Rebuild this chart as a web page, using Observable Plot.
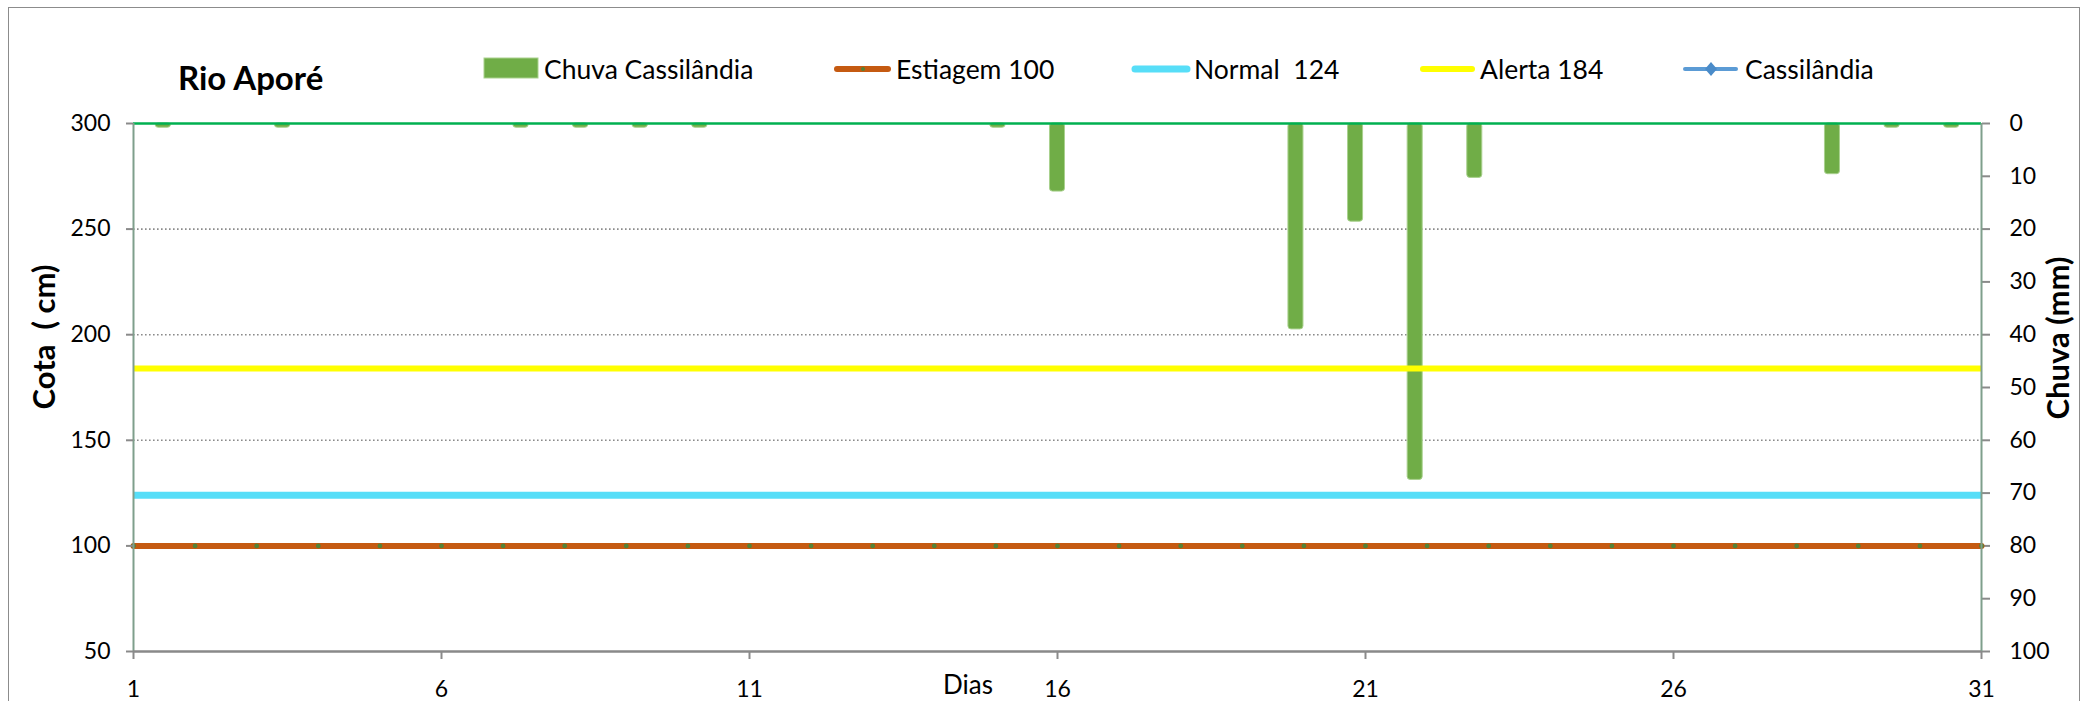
<!DOCTYPE html>
<html>
<head>
<meta charset="utf-8">
<script src="https://cdn.jsdelivr.net/npm/d3@7"></script>
<script src="https://cdn.jsdelivr.net/npm/@observablehq/plot@0.6"></script>
<style>
  html, body { margin: 0; padding: 0; background: #fff; }
  #wrap { position: relative; width: 2094px; height: 701px; overflow: hidden; font-family: Lato, "Noto Sans", sans-serif; }
  #wrap > svg { position: absolute; left: 0; top: 0; }
  #border { position: absolute; left: 8px; top: 7px; width: 2072px; height: 760px; border: 1.5px solid #8c8c8c; box-sizing: border-box; }
  .pre { white-space: pre; }
</style>
</head>
<body>
<div id="wrap"><div id="border"></div></div>
<script>
// ---------- data ----------
const days = [1,2,3,4,5,6,7,8,9,10,11,12,13,14,15,16,17,18,19,20,21,22,23,24,25,26,27,28,29,30,31];
const chuva = [0.8,0,0.8,0,0,0,0.8,0.8,0.8,0.8,0,0,0,0,0.8,12.9,0,0,0,39.0,18.6,67.5,10.3,0,0,0,0,0,9.6,0.8,0.8];
const estiagem = [100,100,100,100,100,100,100,100,100,100,100,100,100,100,100,100,100,100,100,100,100,100,100,100,100,100,100,100,100,100,100];
const normal = 124;
const alerta = 184;
const cassilandia = []; // no readings in the period
const cotaTicks = [50,100,150,200,250,300];
const chuvaTicks = [0,10,20,30,40,50,60,70,80,90,100];
const chuvaGrid = [20,40,60,80];
const dayTicks = [1,6,11,16,21,26,31];
const seriesNames = ["Chuva Cassilândia","Estiagem 100","Normal  124","Alerta 184","Cassilândia"];
const titleText = "Rio Aporé";
const yLeftTitle = "Cota  ( cm)";
const yRightTitle = "Chuva (mm)";
const xTitle = "Dias";

// ---------- tables ----------
const rainData = days.map((d, i) => ({day: d, rain: chuva[i]})).filter(d => d.rain > 0);
const estData = days.map((d, i) => ({day: d, v: estiagem[i]}));

const W = 2094, H = 701;
const common = {width: W, height: H, marginLeft: 133, marginRight: 113, marginTop: 123, marginBottom: 50};
const font = "Lato, 'Noto Sans', sans-serif";
const style = {background: "transparent", fontFamily: font, fontSize: "23px", color: "#000", overflow: "visible"};

// Plot A: rain bars on a band scale, right axis (mm), grid
const plotA = Plot.plot({
  ...common, style,
  x: {type: "band", domain: days, paddingInner: 0.748, paddingOuter: 0.374, round: false, axis: null},
  y: {domain: [0, 100], reverse: true, axis: null},
  marks: [
    Plot.gridY(chuvaGrid, {stroke: "#8a8a8a", strokeOpacity: 1, strokeWidth: 1.6, strokeDasharray: "1.6,2.4"}),
    Plot.barY(rainData, {x: "day", y1: 0, y2: "rain", fill: "#70AD47", stroke: "#A9D18E", strokeWidth: 1, rx: 3}),
    Plot.axisY(chuvaTicks, {anchor: "right", tickSize: 8, tickPadding: 20, stroke: "#8a8a8a", strokeWidth: 2, fill: "#000", label: null})
  ]
});

// Plot B: level lines on a linear day scale, left axis (cm), x axis
const plotB = Plot.plot({
  ...common, style,
  x: {domain: [1, 31], axis: null},
  y: {domain: [50, 300], axis: null},
  marks: [
    Plot.ruleY([alerta], {stroke: "#FFFF00", strokeWidth: 6}),
    Plot.ruleY([normal], {stroke: "#57DEF8", strokeWidth: 7}),
    Plot.lineY(estData, {x: "day", y: "v", stroke: "#C55A11", strokeWidth: 6}),
    Plot.dot(estData, {x: "day", y: "v", r: 2.4, fill: "#548235", stroke: null}),
    Plot.lineY(cassilandia, {x: "day", y: "v", stroke: "#5B9BD5", strokeWidth: 3}),
    Plot.ruleY([300], {stroke: "#00B050", strokeWidth: 2.4}),
    Plot.ruleX([1], {stroke: "#7F9F8C", strokeWidth: 2}),
    Plot.ruleX([31], {stroke: "#7F9F8C", strokeWidth: 2}),
    Plot.ruleY([50], {stroke: "#898989", strokeWidth: 2.5}),
    Plot.axisY(cotaTicks, {anchor: "left", tickSize: 7, tickPadding: 16, stroke: "#8a8a8a", strokeWidth: 2, fill: "#000", label: null}),
    Plot.axisX(dayTicks, {anchor: "bottom", tickSize: 8, tickPadding: 21, stroke: "#8a8a8a", strokeWidth: 2, fill: "#000", label: null})
  ]
});

const wrap = document.getElementById("wrap");
wrap.appendChild(plotA);
wrap.appendChild(plotB);

// Overlay: title, legend, axis titles
const ov = d3.select("#wrap").append("svg").attr("width", W).attr("height", H)
  .style("font-family", font);

ov.append("text").attr("x", 178).attr("y", 90).attr("font-size", 33).attr("font-weight", 700).text(titleText);

ov.append("text").attr("class", "pre").attr("transform", "translate(43,337) rotate(-90)")
  .attr("text-anchor", "middle").attr("dominant-baseline", "central")
  .attr("font-size", 31).attr("font-weight", 700).text(yLeftTitle);
ov.append("text").attr("transform", "translate(2057,338) rotate(-90)")
  .attr("text-anchor", "middle").attr("dominant-baseline", "central")
  .attr("font-size", 31).attr("font-weight", 700).text(yRightTitle);
ov.append("text").attr("x", 943).attr("y", 694).attr("font-size", 26).text(xTitle);

// legend
const legY = 69;
const lg = ov.append("g").attr("font-size", 26.5);
// Chuva swatch
lg.append("rect").attr("x", 484).attr("y", 58).attr("width", 54).attr("height", 20)
  .attr("fill", "#70AD47").attr("stroke", "#A9D18E").attr("stroke-width", 1);
// Estiagem
lg.append("line").attr("x1", 837).attr("x2", 888).attr("y1", legY).attr("y2", legY)
  .attr("stroke", "#C55A11").attr("stroke-width", 6).attr("stroke-linecap", "round");
lg.append("circle").attr("cx", 863).attr("cy", legY).attr("r", 2).attr("fill", "#548235");
// Normal
lg.append("line").attr("x1", 1135).attr("x2", 1187).attr("y1", legY).attr("y2", legY)
  .attr("stroke", "#57DEF8").attr("stroke-width", 7).attr("stroke-linecap", "round");
// Alerta
lg.append("line").attr("x1", 1423).attr("x2", 1472).attr("y1", legY).attr("y2", legY)
  .attr("stroke", "#FFFF00").attr("stroke-width", 6).attr("stroke-linecap", "round");
// Cassilândia
lg.append("line").attr("x1", 1685).attr("x2", 1736).attr("y1", legY).attr("y2", legY)
  .attr("stroke", "#5B9BD5").attr("stroke-width", 4).attr("stroke-linecap", "round");
lg.append("path").attr("d", "M1711,62 L1717,69 L1711,76 L1705,69 Z").attr("fill", "#4A8BC9");

const textX = [544, 896, 1194, 1480, 1745];
seriesNames.forEach((n, i) => {
  lg.append("text").attr("class", "pre").attr("x", textX[i]).attr("y", legY)
    .attr("dominant-baseline", "central").text(n);
});
</script>
</body>
</html>
